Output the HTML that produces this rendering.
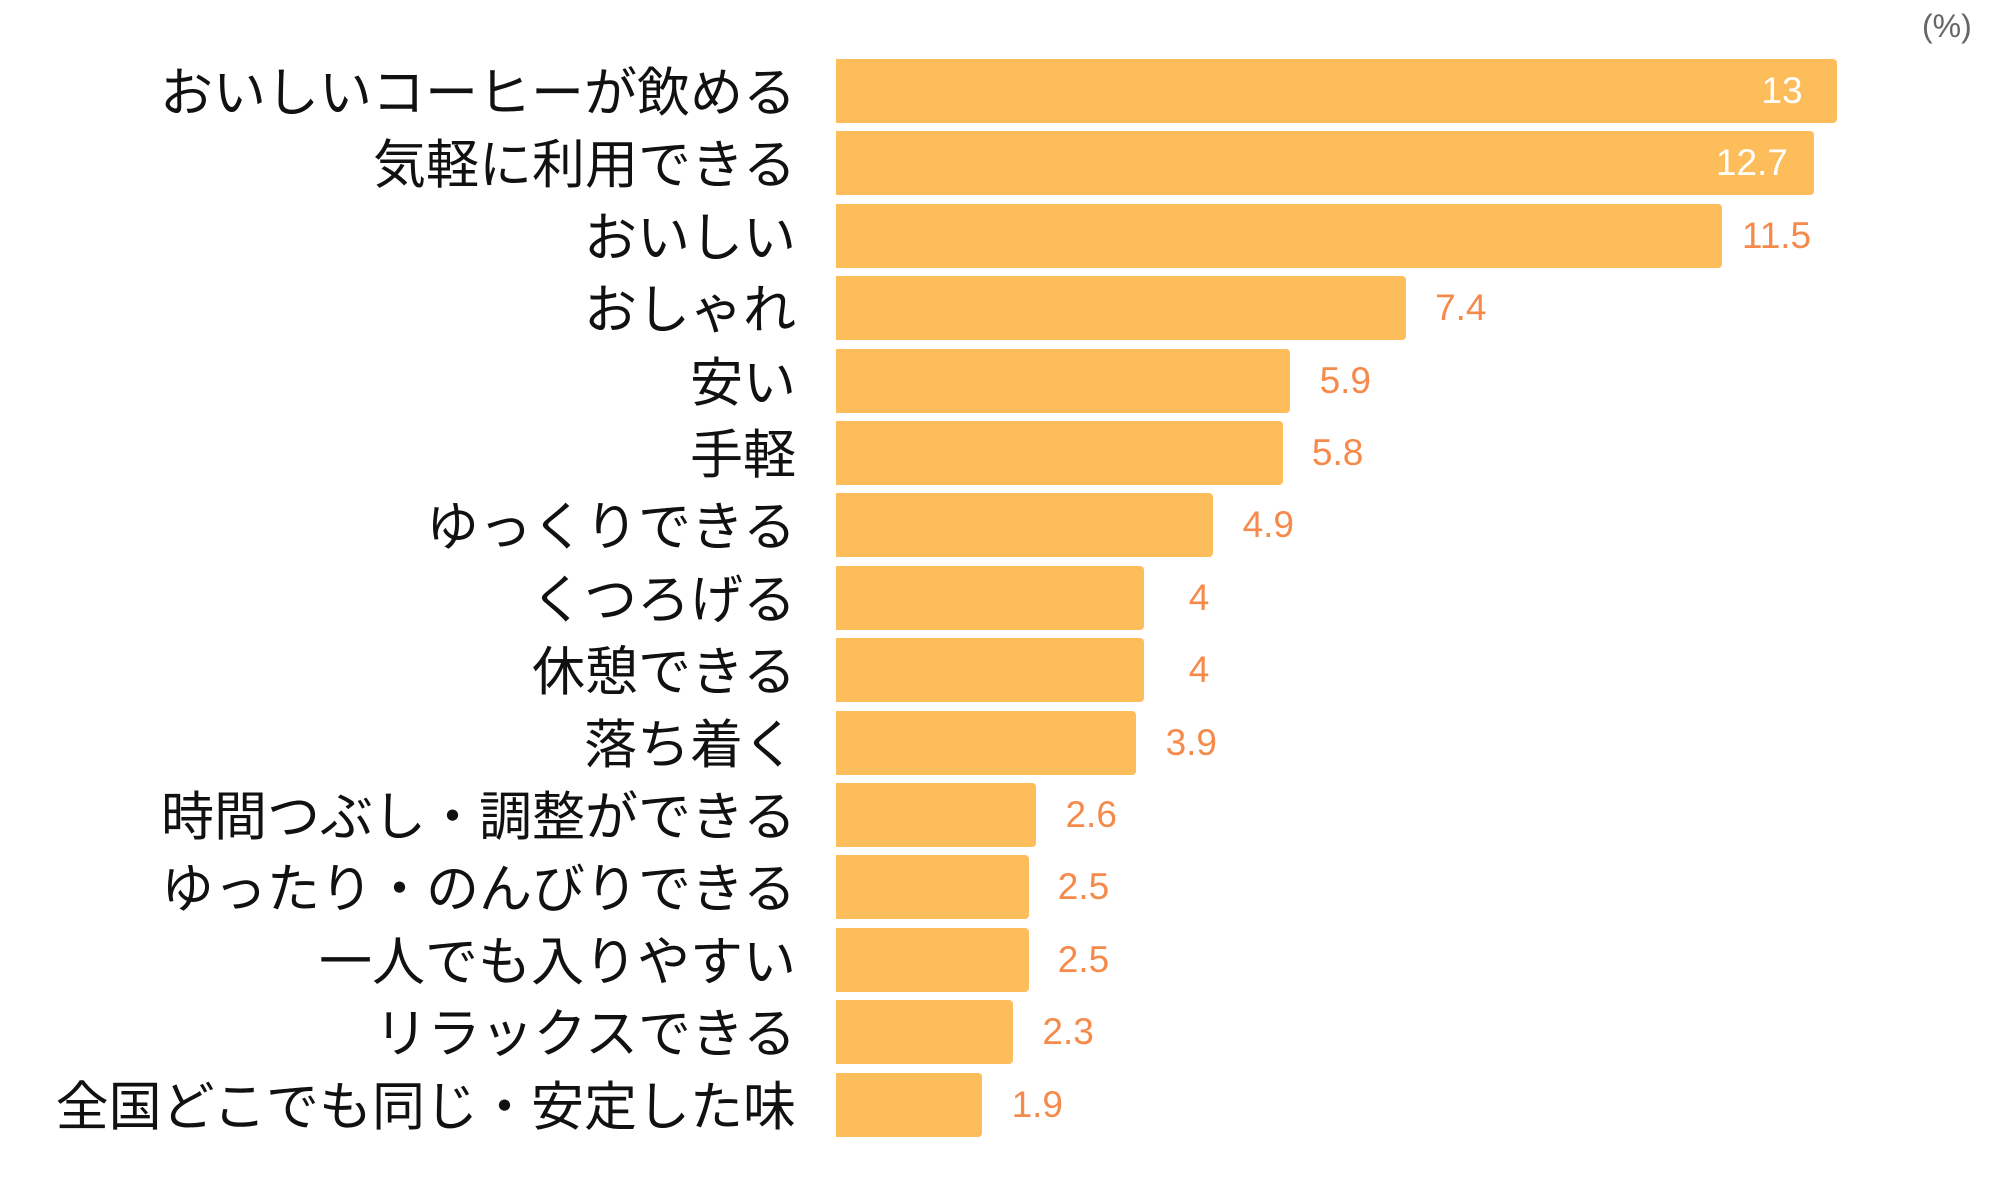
<!DOCTYPE html>
<html><head><meta charset="utf-8"><style>
body{margin:0;width:2000px;height:1200px;background:#fff;position:relative;overflow:hidden;font-family:"Liberation Sans","Noto Sans CJK JP",sans-serif}
.l{position:absolute;right:1204px;font-size:53px;line-height:64px;color:#111;white-space:nowrap;font-family:"Noto Sans CJK JP",sans-serif;font-weight:400}
.b{position:absolute;left:836px;height:64px;background:#fdbd5a;border-radius:0 4px 4px 0}
.v{position:absolute;font-size:37px;line-height:64px;color:#f58a4b;width:120px;text-align:center;font-weight:300}
.w{color:#fff}
.p{position:absolute;left:1922px;top:8px;font-size:32px;color:#666}
</style></head><body>
<div class="p">(%)</div>
<script>
const d=[["おいしいコーヒーが飲める",13],["気軽に利用できる",12.7],["おいしい",11.5],["おしゃれ",7.4],["安い",5.9],["手軽",5.8],["ゆっくりできる",4.9],["くつろげる",4],["休憩できる",4],["落ち着く",3.9],["時間つぶし・調整ができる",2.6],["ゆったり・のんびりできる",2.5],["一人でも入りやすい",2.5],["リラックスできる",2.3],["全国どこでも同じ・安定した味",1.9]];
let h="";
d.forEach((r,i)=>{const t=59+i*72.4;const w=r[1]*77.0;const e=836+w;
h+=`<div class="l" style="top:${t-2}px">${r[0]}</div><div class="b" style="top:${t}px;width:${w}px"></div>`;
const inside=i<2;const c=inside?e-(i==0?55:62):e+55;
h+=`<div class="v${inside?' w':''}" style="top:${t}px;left:${c-60}px">${r[1]}</div>`;});
document.body.insertAdjacentHTML("beforeend",h);
</script>
</body></html>
